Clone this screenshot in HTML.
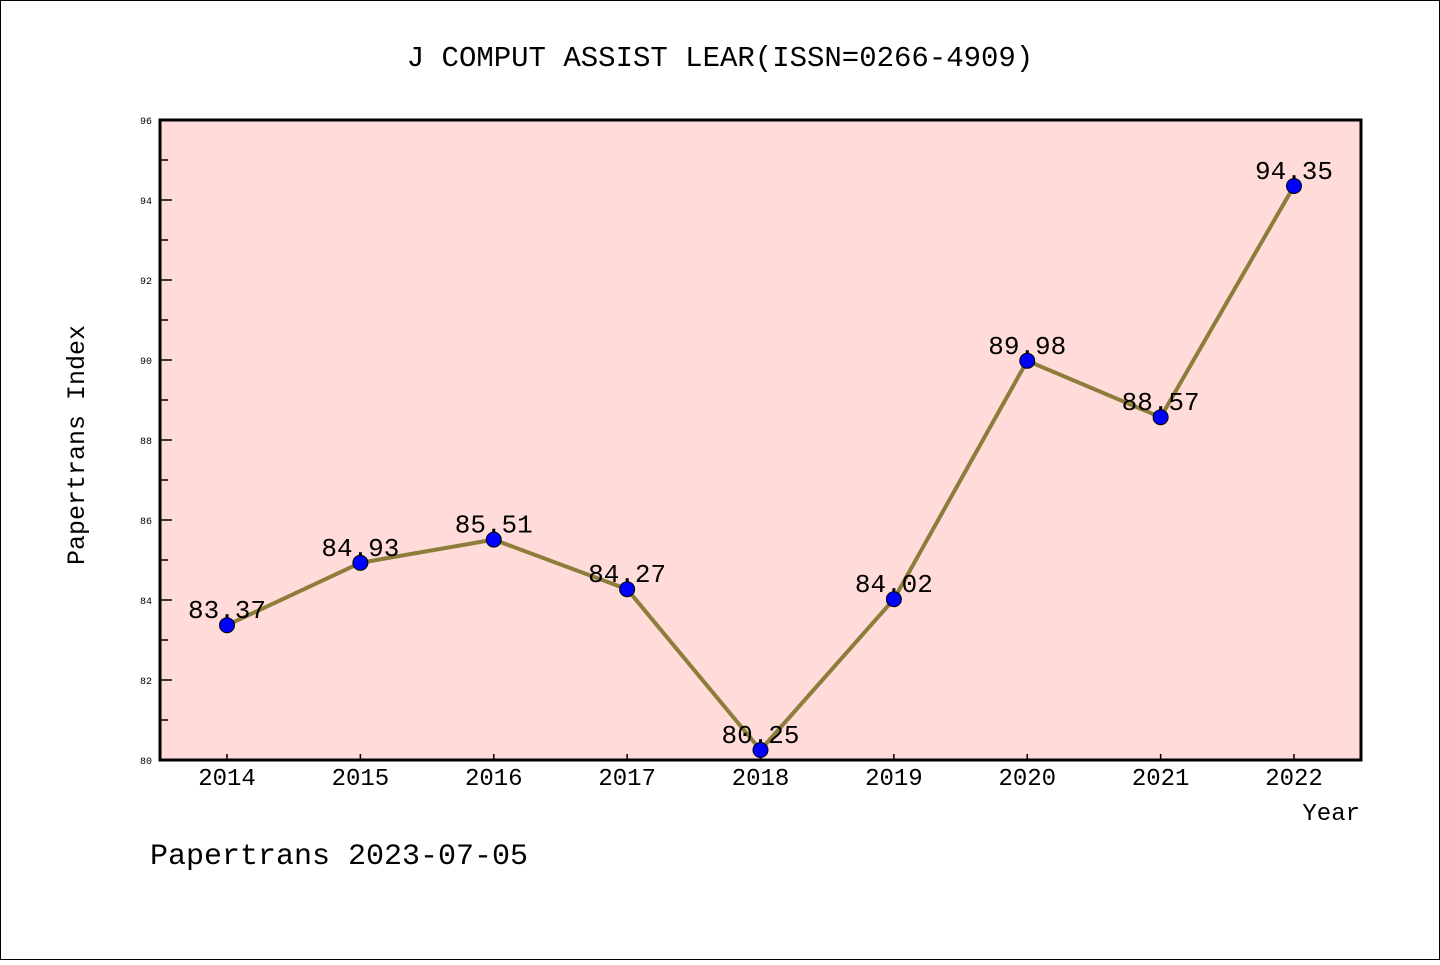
<!DOCTYPE html>
<html><head><meta charset="utf-8"><style>
html,body{margin:0;padding:0;background:#fff;}
svg text{font-family:"WenQuanYi Zen Hei Mono","Liberation Mono",monospace;}
</style></head><body>
<svg width="1440" height="960" xmlns="http://www.w3.org/2000/svg">
<rect x="0.5" y="0.5" width="1439" height="959" fill="#fff" stroke="#000" stroke-width="1"/>
<text x="720" y="66" text-anchor="middle" font-size="29">J COMPUT ASSIST LEAR(ISSN=0266-4909)</text>
<rect x="160" y="120" width="1201" height="640" fill="#ffdcd9"/>
<g id="yticks"></g>
<g id="xticks"></g>
<g id="series"></g>
<rect x="160" y="120" width="1201" height="640" fill="none" stroke="#000" stroke-width="3"/>
<text x="84" y="445" text-anchor="middle" font-size="25" transform="rotate(-90 84 445)">Papertrans Index</text>
<text x="1360" y="820" text-anchor="end" font-size="24">Year</text>
<text x="150" y="864" font-size="30">Papertrans 2023-07-05</text>
</svg>
<script>
const years = ["2014","2015","2016","2017","2018","2019","2020","2021","2022"];
const values = [83.37,84.93,85.51,84.27,80.25,84.02,89.98,88.57,94.35];
const valueLabels = ["83.37","84.93","85.51","84.27","80.25","84.02","89.98","88.57","94.35"];
const yTicks = [80,82,84,86,88,90,92,94,96];
const yMinorTicks = [81,83,85,87,89,91,93,95];

const NS="http://www.w3.org/2000/svg";
const yMin=80,yMax=96,plotTop=120,plotBottom=760;
function y(v){return plotBottom-(v-yMin)/(yMax-yMin)*(plotBottom-plotTop);}
const xStart=227,xEnd=1294;
function x(i){return xStart+i*(xEnd-xStart)/(years.length-1);}
function mk(tag,attrs,parent){const e=document.createElementNS(NS,tag);for(const k in attrs)e.setAttribute(k,attrs[k]);parent.appendChild(e);return e;}

const yg=document.getElementById('yticks');
yTicks.forEach(v=>{
  const l=mk('line',{x1:160,x2:172,y1:y(v),y2:y(v),stroke:'#000','stroke-width':1.5},yg);
  
  
  const t=mk('text',{x:152,y:y(v)+4,'text-anchor':'end','font-size':10},yg);
  t.textContent=v;
  
  
});
yMinorTicks.forEach(v=>{
  const l=mk('line',{x1:160,x2:168,y1:y(v),y2:y(v),stroke:'#000','stroke-width':1.5},yg);
  
  
});
const xg=document.getElementById('xticks');
years.forEach((yr,i)=>{
  const l=mk('line',{x1:x(i),x2:x(i),y1:760,y2:754,stroke:'#000','stroke-width':1.5},xg);
  
  
  const t=mk('text',{x:x(i),y:785,'text-anchor':'middle','font-size':24},xg);
  t.textContent=yr;
  
  
});
const sg=document.getElementById('series');
const pts=values.map((v,i)=>x(i)+','+y(v)).join(' ');
const pl=mk('polyline',{points:pts,fill:'none',stroke:'#8c7d3a','stroke-width':4,'stroke-linejoin':'round'},sg);


values.forEach((v,i)=>{
  const c=mk('circle',{cx:x(i),cy:y(v),r:7.5,fill:'#0000ff',stroke:'#000','stroke-width':1},sg);
  
  
  const t=mk('text',{x:x(i),y:y(v)-7,'text-anchor':'middle','font-size':26},sg);
  t.textContent=valueLabels[i];
  
  
});
</script>
</body></html>
